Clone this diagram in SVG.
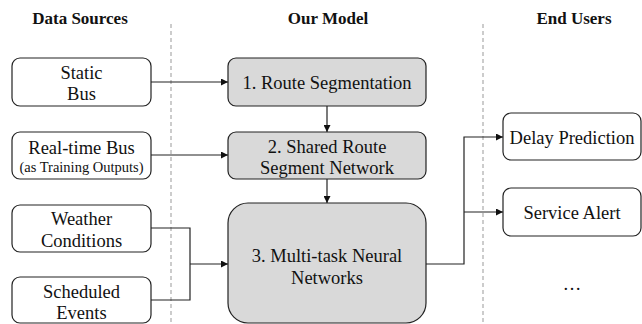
<svg xmlns="http://www.w3.org/2000/svg" width="642" height="324" viewBox="0 0 642 324">
<defs>
<marker id="ah" viewBox="0 0 10 10" refX="10" refY="5" markerWidth="7" markerHeight="7" markerUnits="userSpaceOnUse" orient="auto"><path d="M0,0 L10,5 L0,10 z" fill="#111"/></marker>
</defs>
<style>
text{font-family:'Liberation Serif','Tinos','DejaVu Serif',serif;fill:#111;text-anchor:middle}
.t{font-size:18.5px}
.s{font-size:14.5px}
.h{font-size:17px;font-weight:bold}
.w{fill:#fff;stroke:#222;stroke-width:1.2}
.g{fill:#d9d9d9;stroke:#222;stroke-width:1.2}
.c{fill:none;stroke:#222;stroke-width:1.2}
.d{stroke:#999;stroke-width:1;stroke-dasharray:4,3}
</style>
<rect width="642" height="324" fill="#fff"/>
<g id="titles">
<text class="h" x="80" y="24">Data Sources</text>
<text class="h" x="328" y="24">Our Model</text>
<text class="h" x="574" y="24">End Users</text>
</g>
<g id="dividers">
<line class="d" x1="171" y1="24" x2="171" y2="324"/>
<line class="d" x1="483" y1="24" x2="483" y2="324"/>
</g>
<g id="connectors">
<line class="c" x1="151" y1="82" x2="228" y2="82" marker-end="url(#ah)"/>
<line class="c" x1="151" y1="155" x2="228" y2="155" marker-end="url(#ah)"/>
<line class="c" x1="327" y1="106" x2="327" y2="132" marker-end="url(#ah)"/>
<line class="c" x1="327" y1="179" x2="327" y2="203" marker-end="url(#ah)"/>
<polyline class="c" points="151,228 190,228 190,300 151,300"/>
<line class="c" x1="190" y1="264" x2="228" y2="264" marker-end="url(#ah)"/>
<polyline class="c" points="426,264 464,264 464,137 503,137" marker-end="url(#ah)"/>
<line class="c" x1="464" y1="212" x2="503" y2="212" marker-end="url(#ah)"/>
</g>
<g id="static-bus">
<rect class="w" x="12" y="58" width="139" height="48" rx="8"/>
<text class="t" x="81.5" y="78.5">Static</text>
<text class="t" x="81.5" y="99.5">Bus</text>
</g>
<g id="realtime-bus">
<rect class="w" x="12" y="132" width="139" height="47" rx="8"/>
<text class="t" x="81.5" y="153.5">Real-time Bus</text>
<text class="s" x="81.5" y="172">(as Training Outputs)</text>
</g>
<g id="weather">
<rect class="w" x="12" y="205" width="139" height="47" rx="8"/>
<text class="t" x="81.5" y="224.5">Weather</text>
<text class="t" x="81.5" y="246.5">Conditions</text>
</g>
<g id="events">
<rect class="w" x="12" y="277" width="139" height="46" rx="8"/>
<text class="t" x="81.5" y="297.5">Scheduled</text>
<text class="t" x="81.5" y="318.5">Events</text>
</g>
<g id="route-seg">
<rect class="g" x="228" y="58" width="198" height="48" rx="8"/>
<text class="t" x="327" y="88.5">1. Route Segmentation</text>
</g>
<g id="shared">
<rect class="g" x="228" y="132" width="198" height="47" rx="8"/>
<text class="t" x="327" y="152.5">2. Shared Route</text>
<text class="t" x="327" y="173.5">Segment Network</text>
</g>
<g id="multitask">
<rect class="g" x="228" y="203" width="198" height="120" rx="20"/>
<text class="t" x="327" y="261.5">3. Multi-task Neural</text>
<text class="t" x="327" y="283.5">Networks</text>
</g>
<g id="delay">
<rect class="w" x="503" y="113" width="138" height="47" rx="8"/>
<text class="t" x="572" y="143.5">Delay Prediction</text>
</g>
<g id="alert">
<rect class="w" x="503" y="188" width="138" height="48" rx="8"/>
<text class="t" x="572" y="218.5">Service Alert</text>
</g>
<g id="more">
<text class="t" x="572" y="290">…</text>
</g>
</svg>
